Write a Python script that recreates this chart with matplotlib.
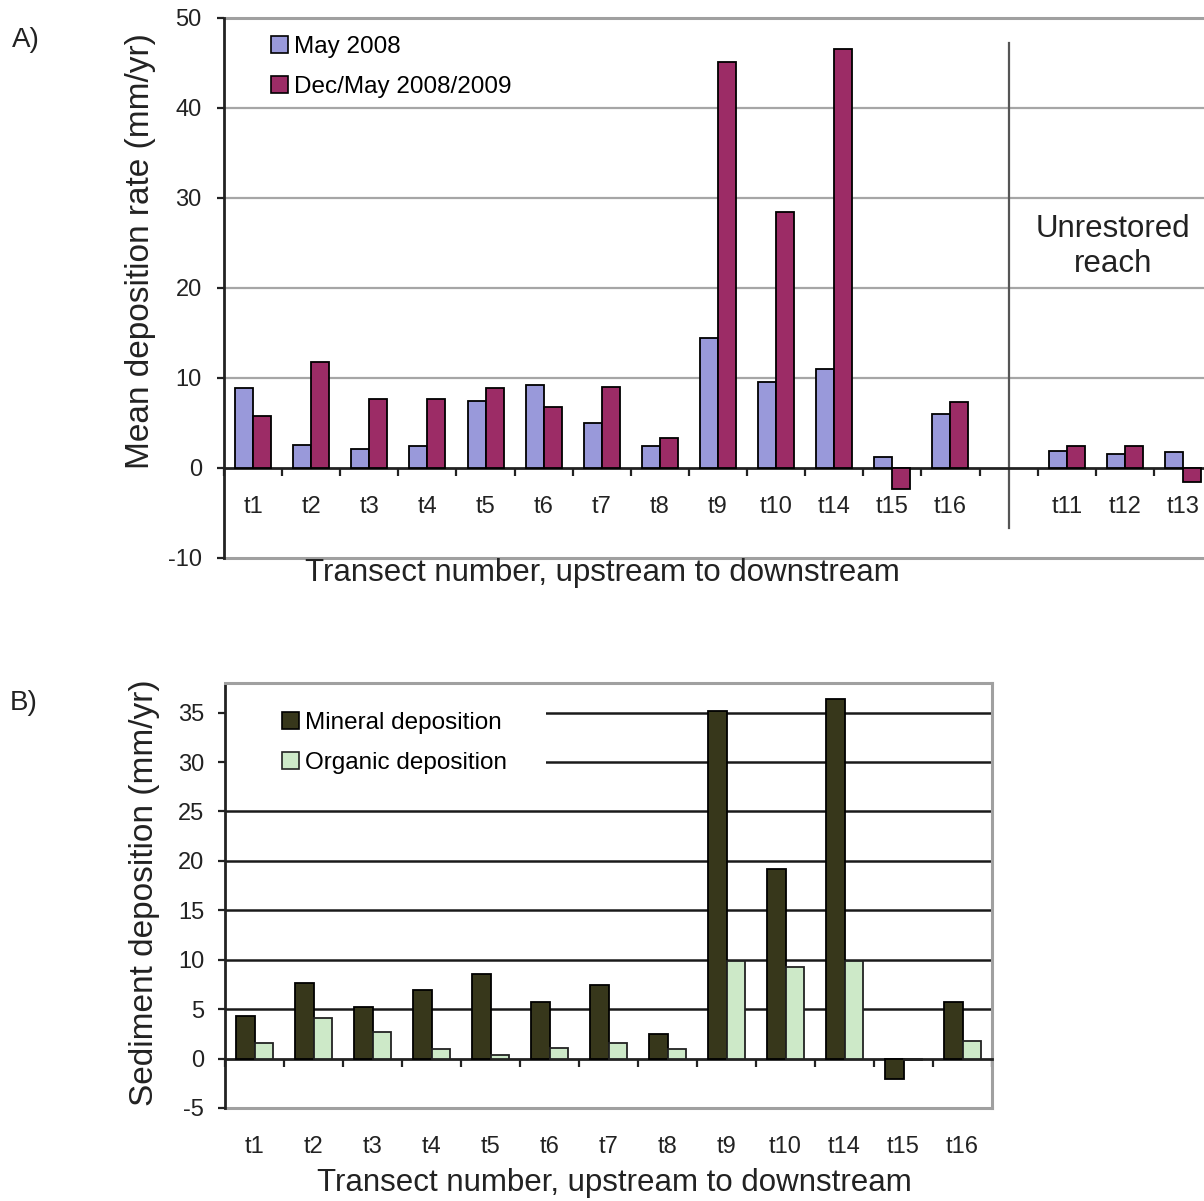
import numpy as np
import matplotlib
matplotlib.use("Agg")
import matplotlib.pyplot as plt
from matplotlib.patches import Patch, Rectangle
from matplotlib.ticker import FixedLocator, NullFormatter

plt.rcParams["font.family"] = ["Liberation Sans", "DejaVu Sans"]
plt.rcParams["axes.unicode_minus"] = False

# ---- Panel A: mean deposition rate per transect ----
restored = ["t1", "t2", "t3", "t4", "t5", "t6", "t7", "t8", "t9", "t10", "t14", "t15", "t16"]
unrestored = ["t11", "t12", "t13"]
may2008_restored = [8.9, 2.6, 2.1, 2.4, 7.5, 9.2, 5.0, 2.4, 14.4, 9.6, 11.0, 1.2, 6.0]
decmay_restored = [5.8, 11.8, 7.7, 7.7, 8.9, 6.8, 9.0, 3.3, 45.1, 28.4, 46.6, -2.3, 7.3]
may2008_unrestored = [1.9, 1.6, 1.8]
decmay_unrestored = [2.5, 2.5, -1.6]

# ---- Panel B: mineral vs organic deposition (restored reach) ----
mineral = [4.3, 7.6, 5.2, 6.9, 8.6, 5.7, 7.4, 2.5, 35.2, 19.2, 36.4, -2.1, 5.7]
organic = [1.6, 4.1, 2.7, 1.0, 0.4, 1.1, 1.6, 1.0, 9.9, 9.3, 9.9, -0.1, 1.8]

C_MAY = "#9999DA"
C_DEC = "#9C2C66"
C_MIN = "#37371B"
C_ORG = "#CDE9C8"
GRID_A = "#A6A6A6"
BOX = "#A0A0A0"
DARK = "#222222"

TICK_FS = 17
LEG_FS = 17.5
XLAB_FS = 22.5
YLAB_FS = 24

fig = plt.figure(figsize=(12.04, 12.01), dpi=100)

W, H = 1204.0, 1201.0


def fig_rect(x0, y0, x1, y1):
    """Axes rectangle from pixel corners (top-left origin)."""
    return [x0 / W, 1 - y1 / H, (x1 - x0) / W, (y1 - y0) / H]


bw = 0.31

# ------------------------- Panel A -------------------------
axA = fig.add_axes(fig_rect(224, 18, 1212, 558))
gap_index = len(restored)
x_rest = np.arange(len(restored))
x_unr = np.arange(len(unrestored)) + gap_index + 1
n_slots = len(restored) + 1 + len(unrestored)

for y in (10, 20, 30, 40):
    axA.axhline(y, color=GRID_A, lw=1.6, zorder=1)
axA.axhline(-10, color=BOX, lw=2.2, zorder=1, clip_on=False)
axA.axhline(50, color=BOX, lw=2.2, zorder=1, clip_on=False)

axA.bar(x_rest - bw / 2, may2008_restored, bw, color=C_MAY, edgecolor="black", lw=1.3, zorder=3)
axA.bar(x_rest + bw / 2, decmay_restored, bw, color=C_DEC, edgecolor="black", lw=1.3, zorder=3)
axA.bar(x_unr - bw / 2, may2008_unrestored, bw, color=C_MAY, edgecolor="black", lw=1.3, zorder=3)
axA.bar(x_unr + bw / 2, decmay_unrestored, bw, color=C_DEC, edgecolor="black", lw=1.3, zorder=3)

# divider between restored and unrestored reaches
axA.plot([gap_index, gap_index], [-6.7, 47.2], color="#555555", lw=1.6, zorder=2, clip_on=False)
axA.text(gap_index + 1.8, 24.6, "Unrestored\nreach", ha="center", va="center",
         fontsize=XLAB_FS, color="#222222")

axA.set_xlim(-0.5, n_slots - 0.5)
axA.set_ylim(-10, 50)
axA.set_yticks(np.arange(-10, 51, 10))
axA.tick_params(axis="y", labelsize=TICK_FS, length=5, width=1.6, pad=11, direction="out",
                color=DARK, labelcolor="#222222")

axA.spines["bottom"].set_position(("data", 0))
axA.spines["bottom"].set_color(DARK)
axA.spines["bottom"].set_linewidth(2)
axA.spines["left"].set_color(DARK)
axA.spines["left"].set_linewidth(2)
axA.spines["top"].set_visible(False)
axA.spines["right"].set_visible(False)

axA.xaxis.set_major_locator(FixedLocator(list(x_rest) + list(x_unr)))
axA.set_xticklabels(restored + unrestored)
axA.xaxis.set_minor_locator(FixedLocator(np.arange(-0.5, n_slots, 1.0)))
axA.xaxis.set_minor_formatter(NullFormatter())
axA.tick_params(axis="x", which="major", length=0, pad=20.5, labelsize=TICK_FS, labelcolor="#222222")
axA.tick_params(axis="x", which="minor", length=6, width=1.6, direction="out", color=DARK)

legA = axA.legend(
    handles=[Patch(facecolor=C_MAY, edgecolor="black", lw=1.2, label="May 2008"),
             Patch(facecolor=C_DEC, edgecolor="black", lw=1.2, label="Dec/May 2008/2009")],
    loc="upper left", bbox_to_anchor=(0.038, 0.985), frameon=False, fontsize=LEG_FS,
    handlelength=0.7, handleheight=0.7, handletextpad=0.25, labelspacing=0.75,
    borderaxespad=0)

fig.text(12 / W, 1 - 40 / H, "A)", fontsize=20, ha="left", va="center", color="#222222")
fig.text(140 / W, 1 - 251 / H, "Mean deposition rate (mm/yr)", rotation=90,
         fontsize=YLAB_FS, ha="center", va="center", color="#222222")
fig.text(602 / W, 1 - 573 / H, "Transect number, upstream to downstream",
         fontsize=XLAB_FS, ha="center", va="center", color="#222222")

# ------------------------- Panel B -------------------------
axB = fig.add_axes(fig_rect(225, 683, 992, 1108))
xB = np.arange(len(restored))

for y in range(5, 36, 5):
    axB.axhline(y, color="#1a1a1a", lw=1.8, zorder=1)

# white area behind the legend hides the gridlines there
axB.add_patch(Rectangle((0, 0.75), 0.418, 0.24, transform=axB.transAxes,
                        facecolor="white", edgecolor="none", zorder=1.5))

axB.bar(xB - bw / 2, mineral, bw, color=C_MIN, edgecolor="black", lw=1.3, zorder=3)
axB.bar(xB + bw / 2, organic, bw, color=C_ORG, edgecolor="#222222", lw=1.3, zorder=3)

axB.set_xlim(-0.5, len(restored) - 0.5)
axB.set_ylim(-5, 38)
axB.set_yticks(np.arange(-5, 36, 5))
axB.tick_params(axis="y", labelsize=TICK_FS, length=5, width=1.6, pad=10, direction="out",
                color=DARK, labelcolor="#222222")

axB.spines["bottom"].set_position(("data", 0))
axB.spines["bottom"].set_color(DARK)
axB.spines["bottom"].set_linewidth(2)
axB.spines["left"].set_color(DARK)
axB.spines["left"].set_linewidth(2)
for side in ("top", "right"):
    axB.spines[side].set_color(BOX)
    axB.spines[side].set_linewidth(2.2)
axB.axhline(-5, color=BOX, lw=2.2, zorder=1, clip_on=False)

axB.xaxis.set_major_locator(FixedLocator(list(xB)))
axB.set_xticklabels(restored)
axB.xaxis.set_minor_locator(FixedLocator(np.arange(-0.5, len(restored), 1.0)))
axB.xaxis.set_minor_formatter(NullFormatter())
axB.tick_params(axis="x", which="major", length=0, pad=56, labelsize=TICK_FS, labelcolor="#222222")
axB.tick_params(axis="x", which="minor", length=6, width=1.6, direction="out", color=DARK)

legB = axB.legend(
    handles=[Patch(facecolor=C_MIN, edgecolor="black", lw=1.2, label="Mineral deposition"),
             Patch(facecolor=C_ORG, edgecolor="#222222", lw=1.2, label="Organic deposition")],
    loc="upper left", bbox_to_anchor=(0.062, 0.955), frameon=False, fontsize=LEG_FS,
    handlelength=0.7, handleheight=0.7, handletextpad=0.25, labelspacing=0.75,
    borderaxespad=0)
legB.set_zorder(5)

fig.text(10 / W, 1 - 703 / H, "B)", fontsize=20, ha="left", va="center", color="#222222")
fig.text(145 / W, 1 - 893 / H, "Sediment deposition (mm/yr)", rotation=90,
         fontsize=YLAB_FS, ha="center", va="center", color="#222222")
fig.text(614 / W, 1 - 1183 / H, "Transect number, upstream to downstream",
         fontsize=XLAB_FS, ha="center", va="center", color="#222222")

fig.savefig("out.png", dpi=100, facecolor="white")
